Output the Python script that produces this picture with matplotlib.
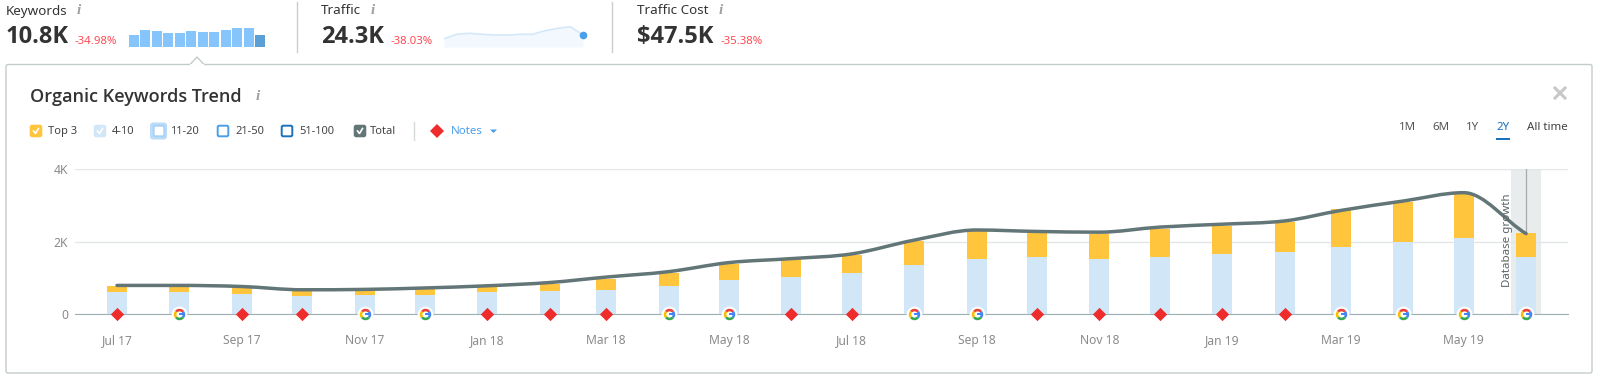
#!/usr/bin/env python
# -*- coding: utf-8 -*-

import numpy as np
import pandas as pd
import matplotlib
matplotlib.use('Agg')
from matplotlib import pyplot as plt
from matplotlib import dates as mdates
from matplotlib.path import Path
from matplotlib.patches import PathPatch, Rectangle, FancyBboxPatch, Polygon

plt.rcParams['font.family'] = ['Noto Sans', 'DejaVu Sans']

months = pd.date_range('2017-07-01', '2019-06-01', freq='MS')
top3_plus = [0.78, 0.745, 0.73, 0.635, 0.645, 0.69, 0.755, 0.85, 0.99, 1.15, 1.40, 1.52,
             1.63, 2.03, 2.31, 2.25, 2.23, 2.37, 2.45, 2.56, 2.90, 3.10, 3.33, 2.25]
pos_4_10 = [0.62, 0.62, 0.56, 0.515, 0.535, 0.535, 0.62, 0.64, 0.68, 0.79, 0.96, 1.02,
            1.13, 1.35, 1.52, 1.58, 1.52, 1.58, 1.66, 1.72, 1.86, 2.00, 2.11, 1.58]
total = [0.80, 0.80, 0.77, 0.68, 0.69, 0.73, 0.79, 0.88, 1.03, 1.18, 1.43, 1.54,
         1.67, 2.05, 2.33, 2.29, 2.27, 2.41, 2.49, 2.58, 2.87, 3.13, 3.36, 2.23]
notes = list('rGrrGGrrrGGrrGGrrrrrGGGG')
xtick_labels = ['Jul 17', 'Sep 17', 'Nov 17', 'Jan 18', 'Mar 18', 'May 18',
                'Jul 18', 'Sep 18', 'Nov 18', 'Jan 19', 'Mar 19', 'May 19']
ytick_vals = [0, 2, 4]
ytick_labels = ['0', '2K', '4K']

kw_spark = [12.3, 16.7, 16, 14.3, 14, 16, 14.7, 14.7, 17.3, 18.7, 18.7, 12]
traffic_spark = [8.3, 12.7, 13.7, 12.7, 12, 12, 12.7, 12.7, 16.3, 18.7, 20.3, 12]

W, H = 1600, 378
YELLOW = '#ffc53d'
LIGHT = '#d1e7f8'
SLATE = '#627577'
GREY = '#8b8b8b'
DARK = '#333333'
RED = '#ff4953'
BLUE = '#4a9fe8'
PX_DAY = 2.013


def px_axes(x0, y0, x1, y1):
    return fig.add_axes([x0 / W, 1 - y1 / H, (x1 - x0) / W, (y1 - y0) / H])


fig = plt.figure(figsize=(16, 3.78), dpi=100)
bg = fig.add_axes([0, 0, 1, 1])
bg.set_xlim(0, W)
bg.set_ylim(H, 0)
bg.axis('off')

# header
for x, name, val, pct, px in [(6, 'Keywords', '10.8K', '-34.98%', 75),
                              (321, 'Traffic', '24.3K', '-38.03%', 391),
                              (637, 'Traffic Cost', '$47.5K', '-35.38%', 721)]:
    bg.text(x, 11, name, fontsize=9.7, color=DARK, va='center')
    bg.text(x, 37, val, fontsize=17, color=DARK, family='Open Sans', fontweight='bold', va='center')
    bg.text(px, 41, pct, fontsize=8.2, color=RED, va='center')
for x in [79, 373, 721]:
    bg.text(x, 11, 'i', fontsize=11, color='#a0a0a0', family='Liberation Serif',
            style='italic', fontweight='bold', va='center', ha='center')
for x in [296.5, 612]:
    bg.plot([x, x], [2, 52], color='#c9cfcf', lw=1)

# panel with the little notch under Keywords
bg.add_patch(FancyBboxPatch((6, 64.5), 1586, 308.5, boxstyle='round,pad=0,rounding_size=2',
                            fc='white', ec='#c3cccc', lw=1))
bg.add_patch(Polygon([[190, 64.5], [197, 57], [204, 64.5]], closed=False, fc='white',
                     ec='#c3cccc', lw=1, zorder=3))
bg.plot([190.7, 203.3], [64.6, 64.6], color='white', lw=1.4, zorder=4)

bg.text(30, 97.5, 'Organic Keywords Trend', fontsize=13, color=DARK, family='Open Sans',
        fontweight='semibold', va='center')
bg.text(258, 97, 'i', fontsize=11, color='#a0a0a0', family='Liberation Serif',
        style='italic', fontweight='bold', va='center', ha='center')
bg.plot([1555, 1565], [88, 98], color='#c8c8c8', lw=2.2)
bg.plot([1555, 1565], [98, 88], color='#c8c8c8', lw=2.2)

# legend row
ly = 131
for x, label, tx, fc, ec, check in [(30, 'Top 3', 48, YELLOW, YELLOW, True),
                                    (94, '4-10', 112, LIGHT, LIGHT, True),
                                    (153, '11-20', 170, 'white', '#a8d2f5', False),
                                    (217, '21-50', 235, 'white', BLUE, False),
                                    (281, '51-100', 299, 'white', '#1a72bd', False),
                                    (354, 'Total', 370, SLATE, SLATE, True)]:
    if label == '11-20':
        bg.add_patch(FancyBboxPatch((150, ly - 8.5), 17, 17, boxstyle='round,pad=0,rounding_size=3',
                                    fc='#bcdcf7', ec='none'))
    bg.add_patch(FancyBboxPatch((x + 0.7, ly - 5.3), 10.6, 10.6, boxstyle='round,pad=0,rounding_size=1.5',
                                fc=fc, ec=ec, lw=1.4))
    if check:
        bg.plot([x + 3.5, x + 5.5, x + 8.5], [ly, ly + 2.5, ly - 2.5], color='white', lw=1.2)
    bg.text(tx, ly + 0.8, label, fontsize=8, color='#444444', va='center')
bg.plot([414, 414], [122, 140], color='#d5dada', lw=1)
bg.plot([437], [ly], marker='D', ms=7.5, color='#ee2c2c', mew=0)
bg.text(451, ly + 0.8, 'Notes', fontsize=8.3, color=BLUE, va='center')
bg.add_patch(Polygon([[490, ly - 1.5], [497, ly - 1.5], [493.5, ly + 2]], fc=BLUE, ec='none'))

# period switch
for x, label, col in [(1408, '1M', '#555555'), (1441, '6M', '#555555'), (1473, '1Y', '#555555'),
                      (1503, '2Y', '#1a72bd'), (1547, 'All time', '#444444')]:
    bg.text(x, 127.5, label, fontsize=8.3, color=col, va='center', ha='center')
bg.add_patch(Rectangle((1496, 137.5), 14, 2.5, fc='#1a72bd', ec='none'))

# sparklines
ax1 = px_axes(129, 27, 265, 47)
ax1.bar(range(len(kw_spark)), kw_spark, width=0.84,
        color=['#85c5fb'] * (len(kw_spark) - 1) + ['#5a9fd6'])
ax1.set_xlim(-0.42, len(kw_spark) - 0.58)
ax1.set_ylim(0, 20)
ax1.axis('off')

ax2 = px_axes(444, 24, 583, 47)
sx = np.arange(len(traffic_spark))
ax2.fill_between(sx, traffic_spark, color='#f2f8fe', lw=0)
ax2.plot(sx, traffic_spark, color='#d4e8fa', lw=1.2)
ax2.plot(sx[-1], traffic_spark[-1], 'o', color=BLUE, ms=4.5, clip_on=False)
ax2.set_xlim(0, len(sx) - 1)
ax2.set_ylim(0, 23)
ax2.axis('off')

# main chart, Jul 17 sits at px 117
ax = px_axes(75, 169.5, 1568, 314.4)
ax.patch.set_alpha(0)
d0 = mdates.date2num(months[0])
ax.set_xlim(d0 - (117 - 75) / PX_DAY, d0 + (1568 - 117) / PX_DAY)
ax.set_ylim(0, 4)
x = mdates.date2num(months)

last = x[-1]
ax.axvspan(last - 7.4, last + 7.4, color='#e8ecec', lw=0, zorder=0)
ax.plot([last, last], [total[-1], 4], color='#a9a9a9', lw=0.9, zorder=1)
ax.text(last - 9, 2.05, 'Database growth', rotation=90, fontsize=8.3, color='#5c6464',
        ha='center', va='center', zorder=6)

bw = 20 / PX_DAY
ax.bar(x, pos_4_10, width=bw, color=LIGHT, zorder=2)
ax.bar(x, np.array(top3_plus) - np.array(pos_4_10), bottom=pos_4_10, width=bw, color=YELLOW, zorder=2)

# smooth total line: bezier handles through the monthly values, flat at peaks
slopes = np.diff(total) / np.diff(x)
tang = np.zeros(len(x))
for i in range(1, len(x) - 1):
    if slopes[i - 1] * slopes[i] > 0:
        tang[i] = (total[i + 1] - total[i - 1]) / (x[i + 1] - x[i - 1])
tang[0] = slopes[0]
tang[-1] = slopes[-1] * 0.9
verts = [(x[0], total[0])]
codes = [Path.MOVETO]
for i in range(len(x) - 1):
    dx = x[i + 1] - x[i]
    verts += [(x[i] + dx / 3, total[i] + tang[i] * dx / 3),
              (x[i + 1] - dx / 3, total[i + 1] - tang[i + 1] * dx / 3),
              (x[i + 1], total[i + 1])]
    codes += [Path.CURVE4] * 3
ax.add_patch(PathPatch(Path(verts, codes), fc='none', ec=SLATE, lw=2.5, zorder=4, capstyle='round'))

ax.set_yticks(ytick_vals)
ax.set_yticklabels(ytick_labels, fontsize=8.8, color=GREY)
ax.set_xticks(x[::2])
ax.set_xticklabels(xtick_labels, fontsize=8.7, color=GREY)
ax.tick_params(axis='both', length=0)
ax.tick_params(axis='x', pad=14)
ax.tick_params(axis='y', pad=5)
ax.grid(axis='y', color='#e3e6e6', lw=1, zorder=0)
ax.set_axisbelow(True)
for s in ['top', 'left', 'right']:
    ax.spines[s].set_visible(False)
ax.spines['bottom'].set_color('#9fb0b5')
ax.spines['bottom'].set_zorder(3)

# notes on the baseline
rx = [a for a, n in zip(x, notes) if n == 'r']
gx = [a for a, n in zip(x, notes) if n == 'G']
ry = [0] * len(rx)
gy = [0] * len(gx)
ax.scatter(rx, ry, marker='D', s=46, color='#ee2c2c', lw=0, zorder=7, clip_on=False)
ax.scatter(gx, gy, marker='o', s=130, color='white', lw=0, zorder=7, clip_on=False)
for t1, t2, col in [(-40, 40, '#4285f4'), (40, 140, '#ea4335'),
                    (140, 220, '#fbbc05'), (220, 320, '#34a853')]:
    ax.scatter(gx, gy, marker=Path.wedge(t1, t2), s=68, color=col, lw=0, zorder=8, clip_on=False)
ax.scatter(gx, gy, marker='o', s=20, color='white', lw=0, zorder=9, clip_on=False)
bar_mark = Path([(0, 0.22), (1, 0.22), (1, -0.22), (0, -0.22), (0, 0.22)], closed=True)
ax.scatter(gx, gy, marker=bar_mark, s=30, color='#4285f4', lw=0, zorder=10, clip_on=False)

plt.savefig('out.png', dpi=100)
